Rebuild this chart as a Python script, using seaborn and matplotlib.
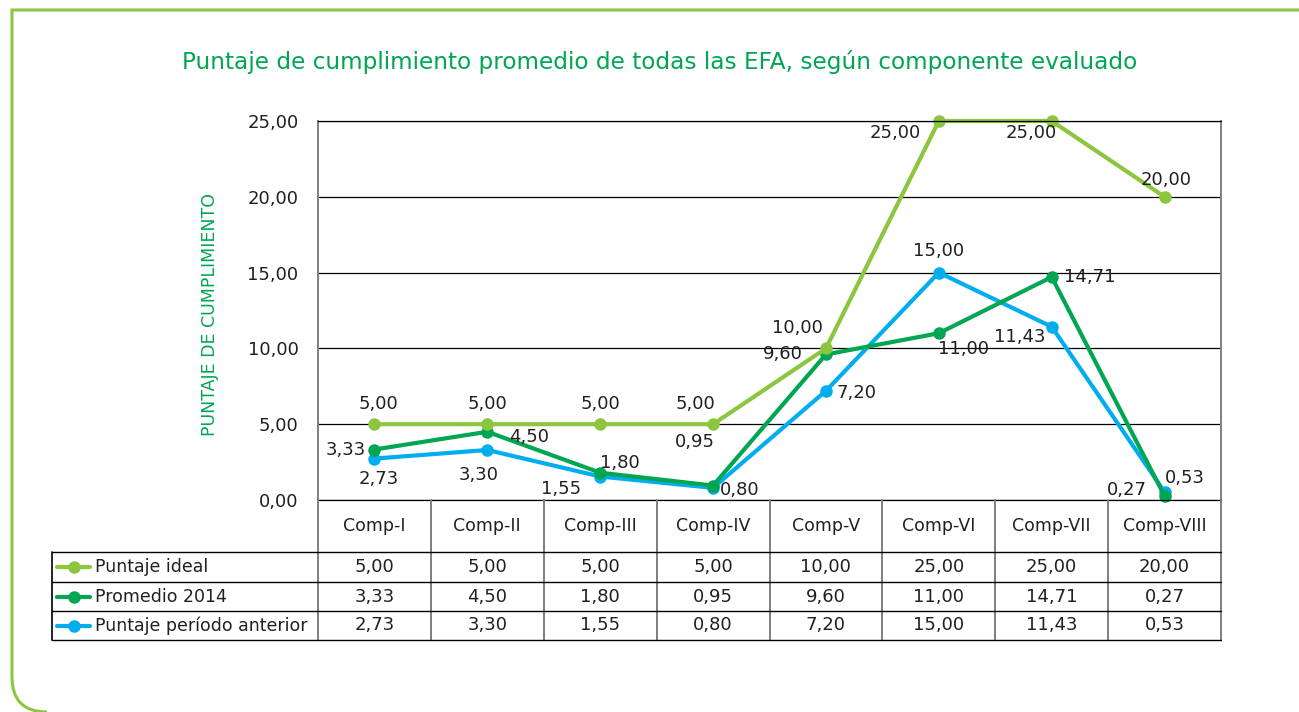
import numpy as np
import pandas as pd
import seaborn as sns
import matplotlib.pyplot as plt
from matplotlib.path import Path
from matplotlib.patches import PathPatch

componentes = ["Comp-I", "Comp-II", "Comp-III", "Comp-IV",
               "Comp-V", "Comp-VI", "Comp-VII", "Comp-VIII"]
puntaje_ideal = [5.00, 5.00, 5.00, 5.00, 10.00, 25.00, 25.00, 20.00]
promedio_2014 = [3.33, 4.50, 1.80, 0.95, 9.60, 11.00, 14.71, 0.27]
puntaje_anterior = [2.73, 3.30, 1.55, 0.80, 7.20, 15.00, 11.43, 0.53]
series_nombres = ["Puntaje ideal", "Promedio 2014", "Puntaje período anterior"]
y_ticks = [0, 5, 10, 15, 20, 25]

colores = {"Puntaje ideal": "#8cc63f",
           "Promedio 2014": "#00a651",
           "Puntaje período anterior": "#00aeef"}

# label offsets in pixels (dx, dy) for each point
offsets = {
    "Puntaje ideal": [(4, 20), (0, 20), (0, 20), (-18, 20), (-28, 20), (-44, -12), (-20, -12), (2, 17)],
    "Promedio 2014": [(-29, 0), (42, -5), (20, 10), (-18, 44), (-43, 0), (25, -16), (38, 0), (-38, 6)],
    "Puntaje período anterior": [(4, -20), (-9, -25), (-39, -12), (27, -2), (31, -2), (0, 22), (-32, -10), (20, 14)],
}


def fmt(v):
    return f"{v:.2f}".replace(".", ",")


valores = {"Puntaje ideal": puntaje_ideal,
           "Promedio 2014": promedio_2014,
           "Puntaje período anterior": puntaje_anterior}

df = pd.DataFrame({
    "pos": np.tile(np.arange(len(componentes)), 3),
    "valor": puntaje_ideal + promedio_2014 + puntaje_anterior,
    "serie": np.repeat(series_nombres, len(componentes)),
})

sns.set_theme(style="white")
plt.rcParams["font.family"] = ["DejaVu Sans"]
texto = "#231f20"

W, H = 1299, 712
fig = plt.figure(figsize=(W / 100, H / 100), dpi=100)

# main chart area
ax = fig.add_axes([318 / W, 1 - 500 / H, 903 / W, 379 / H])
orden = ["Puntaje período anterior", "Promedio 2014", "Puntaje ideal"]
sns.lineplot(data=df, x="pos", y="valor", hue="serie", hue_order=orden,
             palette=colores, marker="o", markersize=9, markeredgewidth=0,
             linewidth=3, sort=False, legend=False, ax=ax)
for line in ax.lines:
    line.set_clip_on(False)

for serie in series_nombres:
    for i, v in enumerate(valores[serie]):
        dx, dy = offsets[serie][i]
        ax.annotate(fmt(v), (i, v), xytext=(dx, dy), textcoords="offset pixels",
                    ha="center", va="center", fontsize=13, color=texto)

ax.set_xlim(-0.5, len(componentes) - 0.5)
ax.set_ylim(0, 25)
ax.set_xticks([])
ax.set_yticks(y_ticks)
ax.set_yticklabels([fmt(t) for t in y_ticks])
ax.tick_params(axis="y", length=0, pad=14, labelsize=13, labelcolor=texto)
ax.set_xlabel("")
ax.set_ylabel("PUNTAJE DE CUMPLIMIENTO", color="#00a651", fontsize=12.5)
ax.yaxis.set_label_coords(-0.110, 0.49)
ax.grid(axis="y", color="black", linewidth=0.9)
ax.set_axisbelow(True)
for s in ["left", "right"]:
    ax.spines[s].set_color("#7f7f7f")
    ax.spines[s].set_linewidth(1.4)
for s in ["top", "bottom"]:
    ax.spines[s].set_color("black")
    ax.spines[s].set_linewidth(0.9)

# data table below the chart
col_w = 903 / len(componentes)
x0 = -0.5 - 266 / col_w
x1 = len(componentes) - 0.5
tax = fig.add_axes([52 / W, 1 - 640 / H, 1169 / W, 140 / H])
tax.set_xlim(x0, x1)
tax.set_ylim(140, 0)
tax.axis("off")

gris = "#7f7f7f"
for k in range(len(componentes) + 1):
    tax.plot([k - 0.5, k - 0.5], [0, 140], color=gris, lw=1.4, clip_on=False)
tax.plot([x0, x0], [52, 140], color="black", lw=1.2, clip_on=False)
for yy in [52, 82, 111, 140]:
    tax.plot([x0, x1], [yy, yy], color="black", lw=1.0, clip_on=False)

for i, c in enumerate(componentes):
    tax.text(i, 26, c, ha="center", va="center", fontsize=12.5, color=texto)

filas_y = [67, 96.5, 125.5]
for serie, yy in zip(series_nombres, filas_y):
    for i, v in enumerate(valores[serie]):
        tax.text(i, yy, fmt(v), ha="center", va="center", fontsize=13, color=texto)
    lx = [x0 + 5 / col_w, x0 + 22 / col_w, x0 + 38 / col_w]
    tax.plot(lx, [yy] * 3, color=colores[serie], lw=3, marker="o",
             markersize=9, markeredgewidth=0, markevery=[1], clip_on=False)
    tax.text(x0 + 43 / col_w, yy, serie, ha="left", va="center",
             fontsize=12.5, color=texto)

# title
fig.text(660 / W, 1 - 62 / H,
         "Puntaje de cumplimiento promedio de todas las EFA, según componente evaluado",
         ha="center", va="center", fontsize=16.7, color="#00a651")

# green frame with rounded bottom-left corner
pts = [(1310, 10), (12, 10), (12, 677), (12, 712), (47, 712)]
verts = [(x / W, 1 - y / H) for x, y in pts]
codes = [Path.MOVETO, Path.LINETO, Path.LINETO, Path.CURVE3, Path.CURVE3]
fig.patches.append(PathPatch(Path(verts, codes), transform=fig.transFigure,
                             facecolor="none", edgecolor="#8dc63f", lw=2.2))

fig.savefig("out.png", dpi=100)
